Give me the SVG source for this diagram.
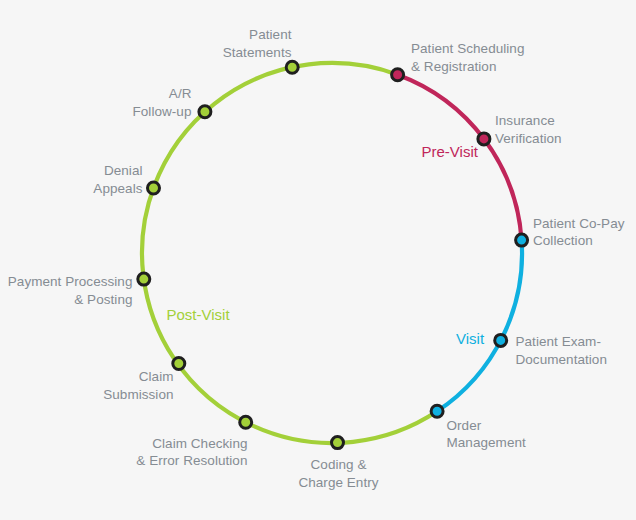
<svg xmlns="http://www.w3.org/2000/svg" width="636" height="520" viewBox="0 0 636 520">
<style>
.lbl{font-family:"Liberation Sans",Arial,sans-serif;font-size:13.5px;fill:#858c93;letter-spacing:0.05px}
.e{text-anchor:end}
.m{text-anchor:middle}
.phase{font-family:"Liberation Sans",Arial,sans-serif;font-size:15px}
.arc{fill:none;stroke-width:4.2}
.node{stroke:#1f1f1f;stroke-width:3}
.red{fill:#c0265a}
.blue{fill:#0fb0e0}
.green{fill:#a3d039}
</style>
<rect width="636" height="520" fill="#f6f6f6"/>
<g id="connectors">
<path class="arc" stroke="#a3d039" d="M437.1,411.3 A190,190 0 1 1 397.6,74.7"/>
<path class="arc" stroke="#c0265a" d="M397.6,74.7 A190,190 0 0 1 521.6,240.1"/>
<path class="arc" stroke="#0fb0e0" d="M521.6,240.1 A190,190 0 0 1 437.1,411.3"/>
</g>
<g id="phase-labels">
<text class="phase" x="421.5" y="157" fill="#c0265a">Pre-Visit</text>
<text class="phase" x="456" y="344" fill="#0fb0e0">Visit</text>
<text class="phase" x="166.5" y="320" fill="#a3d039">Post-Visit</text>
</g>
<g id="n-scheduling">
<circle class="node red" cx="397.6" cy="74.7" r="6"/>
<text class="lbl" x="411" y="53">Patient Scheduling</text>
<text class="lbl" x="411" y="71">&amp; Registration</text>
</g>
<g id="n-insurance">
<circle class="node red" cx="483.9" cy="138.9" r="6"/>
<text class="lbl" x="495" y="125">Insurance</text>
<text class="lbl" x="495" y="143">Verification</text>
</g>
<g id="n-copay">
<circle class="node blue" cx="521.6" cy="240.1" r="6"/>
<text class="lbl" x="533" y="227.5">Patient Co-Pay</text>
<text class="lbl" x="533" y="245">Collection</text>
</g>
<g id="n-exam">
<circle class="node blue" cx="500.7" cy="340.4" r="6"/>
<text class="lbl" x="515.5" y="346">Patient Exam-</text>
<text class="lbl" x="515.5" y="364">Documentation</text>
</g>
<g id="n-order">
<circle class="node blue" cx="437.1" cy="411.3" r="6"/>
<text class="lbl" x="446.5" y="429.5">Order</text>
<text class="lbl" x="446.5" y="447">Management</text>
</g>
<g id="n-coding">
<circle class="node green" cx="337.5" cy="442.6" r="6"/>
<text class="lbl m" x="338.5" y="468.5">Coding &amp;</text>
<text class="lbl m" x="338.5" y="486.5">Charge Entry</text>
</g>
<g id="n-checking">
<circle class="node green" cx="245.7" cy="422.3" r="6"/>
<text class="lbl e" x="247.5" y="447.5">Claim Checking</text>
<text class="lbl e" x="247.5" y="465">&amp; Error Resolution</text>
</g>
<g id="n-submission">
<circle class="node green" cx="178.8" cy="363.5" r="6"/>
<text class="lbl e" x="173.5" y="381">Claim</text>
<text class="lbl e" x="173.5" y="398.5">Submission</text>
</g>
<g id="n-payment">
<circle class="node green" cx="143.8" cy="279.1" r="6"/>
<text class="lbl e" x="132.5" y="286">Payment Processing</text>
<text class="lbl e" x="132.5" y="304">&amp; Posting</text>
</g>
<g id="n-denial">
<circle class="node green" cx="153.5" cy="188" r="6"/>
<text class="lbl e" x="142.5" y="175">Denial</text>
<text class="lbl e" x="142.5" y="193">Appeals</text>
</g>
<g id="n-ar">
<circle class="node green" cx="204.9" cy="111.8" r="6"/>
<text class="lbl e" x="191.5" y="97.5">A/R</text>
<text class="lbl e" x="191.5" y="115.5">Follow-up</text>
</g>
<g id="n-statements">
<circle class="node green" cx="292.2" cy="67.2" r="6"/>
<text class="lbl e" x="291.5" y="39">Patient</text>
<text class="lbl e" x="291.5" y="57">Statements</text>
</g>
</svg>
